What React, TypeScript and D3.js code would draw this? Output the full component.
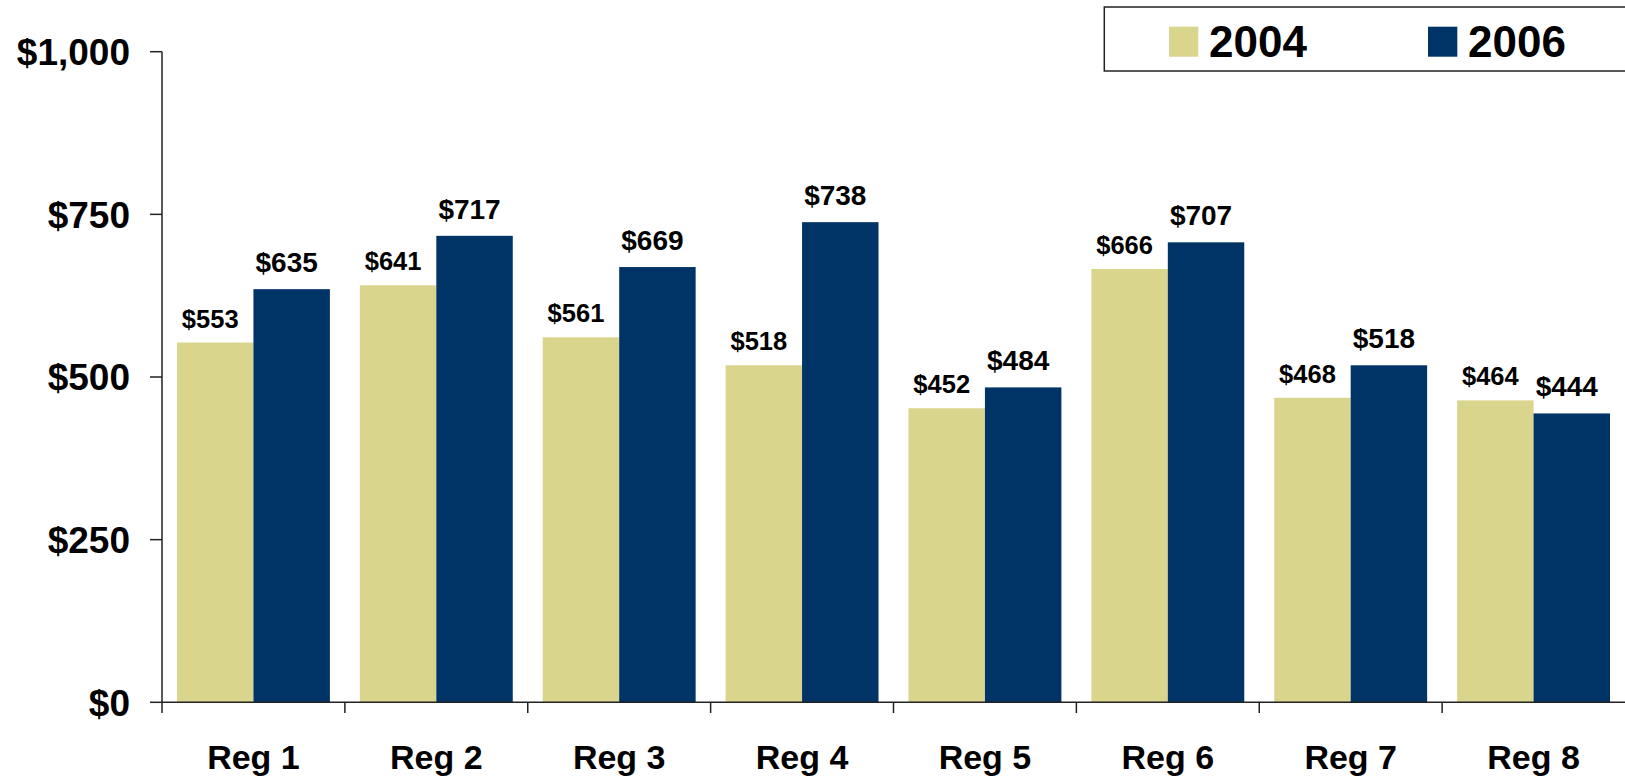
import React from "react";
import * as d3 from "d3";

const categories = ["Reg 1", "Reg 2", "Reg 3", "Reg 4", "Reg 5", "Reg 6", "Reg 7", "Reg 8"];
const seriesNames = ["2004", "2006"];
const values2004 = [553, 641, 561, 518, 452, 666, 468, 464];
const values2006 = [635, 717, 669, 738, 484, 707, 518, 444];
const yTicks = [0, 250, 500, 750, 1000];
const colors = ["#D9D58D", "#003366"];

const W = 1625;
const H = 776;
const left = 162;
const right = 1625;
const top = 51.7;
const bottom = 702.3;

export default function App() {
  const x = d3.scaleBand<string>().domain(categories).range([left, right]).paddingInner(0).paddingOuter(0);
  const inner = d3.scaleBand<string>().domain(seriesNames).range([0, x.bandwidth()]).paddingInner(0).paddingOuter(0.196);
  const y = d3.scaleLinear().domain([0, 1000]).range([bottom, top]);
  const fmt = (v: number) => "$" + d3.format(",")(v);
  const series = [values2004, values2006];
  const labelSize = [25.5, 28];
  const labelGap = [15, 17];

  return (
    <svg width={W} height={H} style={{ position: "absolute", left: 0, top: 0, background: "#fff" }}
      fontFamily="'Liberation Sans', Arial, sans-serif" fontWeight="bold">
      {series.map((vals, si) =>
        vals.map((v, i) => {
          const bx = (x(categories[i]) as number) + (inner(seriesNames[si]) as number);
          const bw = inner.bandwidth();
          return (
            <g key={`${si}-${i}`}>
              <rect x={bx} y={y(v)} width={bw} height={bottom - y(v)} fill={colors[si]} />
              <text x={bx + bw / 2 - 5} y={y(v) - labelGap[si]} textAnchor="middle" fontSize={labelSize[si]} fill="#000">
                {fmt(v)}
              </text>
            </g>
          );
        })
      )}
      {/* y axis */}
      <line x1={left} x2={left} y1={top} y2={713} stroke="#222" strokeWidth={1.5} />
      {yTicks.map((t) => (
        <g key={t}>
          <line x1={150} x2={left} y1={y(t)} y2={y(t)} stroke="#222" strokeWidth={1.5} />
          <text x={130} y={y(t)} dy="0.36em" textAnchor="end" fontSize={37} fill="#000">
            {fmt(t)}
          </text>
        </g>
      ))}
      {/* x axis */}
      <line x1={left} x2={right} y1={bottom} y2={bottom} stroke="#222" strokeWidth={1.5} />
      {categories.map((c, i) => (
        <g key={c}>
          {i > 0 && (
            <line x1={x(c) as number} x2={x(c) as number} y1={bottom} y2={713} stroke="#222" strokeWidth={1.5} />
          )}
          <text x={(x(c) as number) + x.bandwidth() / 2} y={769} textAnchor="middle" fontSize={34} fill="#000">
            {c}
          </text>
        </g>
      ))}
      {/* legend */}
      <rect x={1104.3} y={7} width={600} height={64} fill="#fff" stroke="#222" strokeWidth={1.5} />
      {seriesNames.map((s, i) => {
        const sx = [1169, 1428][i];
        return (
          <g key={s}>
            <rect x={sx} y={26.7} width={29.3} height={30} fill={colors[i]} />
            <text x={sx + 40} y={57} fontSize={44} fill="#000">{s}</text>
          </g>
        );
      })}
    </svg>
  );
}
